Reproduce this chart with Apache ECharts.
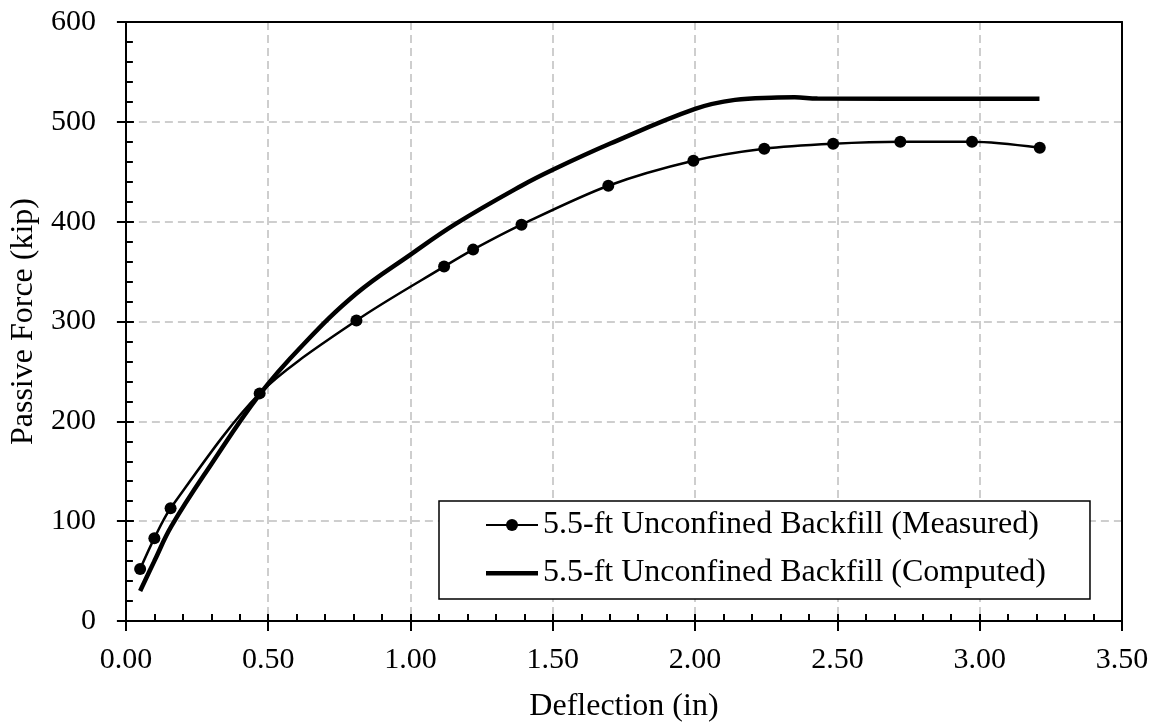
<!DOCTYPE html>
<html><head><meta charset="utf-8">
<script src="https://cdn.jsdelivr.net/npm/echarts@6/dist/echarts.min.js"></script>
<style>html,body{margin:0;padding:0;background:#fff}#c{width:1158px;height:728px}</style>
</head><body><div id="c"></div>
<script>
const measuredName = '5.5-ft Unconfined Backfill (Measured)';
const computedName = '5.5-ft Unconfined Backfill (Computed)';
const measuredX = [0.05, 0.10, 0.157, 0.47, 0.81, 1.118, 1.22, 1.39, 1.695, 1.994, 2.243, 2.485, 2.721, 2.973, 3.211];
const measuredY = [52, 83, 113, 228, 301, 355, 372, 397, 436, 461, 473, 478, 480, 480, 474];
const computedX = [0.05, 0.10, 0.16, 0.30, 0.47, 0.62, 0.81, 1.00, 1.16, 1.39, 1.50, 1.70, 2.00, 2.14, 2.29, 2.35, 2.43, 3.21];
const computedY = [30, 60, 95, 157, 227, 276, 328, 367, 398, 436, 452, 478, 513, 522, 524.3, 524.6, 523.3, 523];
const xMin = 0, xMax = 3.5, xStep = 0.5;
const yMin = 0, yMax = 600, yStep = 100;

const FONT = 'Liberation Serif, Times New Roman, serif';
const zip = (a, b) => a.map((v, i) => [v, b[i]]);
const gridLine = {show: true, lineStyle: {color: '#bfbfbf', type: [8, 5], width: 1.5}};
const blk = {color: '#000', width: 2};
const frameAxis = (extra) => Object.assign({
  type: 'value', axisLine: {show: true, onZero: false, lineStyle: blk},
  axisTick: {show: false}, axisLabel: {show: false}, splitLine: {show: false}
}, extra);

const chart = echarts.init(document.getElementById('c'), null, {renderer: 'canvas'});
chart.setOption({
  animation: false,
  backgroundColor: '#fff',
  grid: {left: 123, right: 36, top: 22, bottom: 103},
  legend: {
    orient: 'vertical', left: 439, top: 501,
    padding: [6, 44, 8, 46], itemGap: 12, itemWidth: 52, itemHeight: 15,
    backgroundColor: '#fff', borderColor: '#000', borderWidth: 1.5, borderRadius: 0,
    selectedMode: false,
    textStyle: {fontFamily: FONT, fontSize: 32, color: '#000', lineHeight: 36},
    data: [
      {name: measuredName},
      {name: computedName,
       icon: 'path://M0,0h0.05v0.05h-0.05z M0,5h52v4.5h-52z M51.95,13.95h0.05v0.05h-0.05z',
       itemStyle: {color: '#000'}}
    ]
  },
  xAxis: [
    {type: 'value', min: xMin, max: xMax, interval: xStep, position: 'bottom',
     axisLine: {show: true, onZero: false, lineStyle: blk},
     axisTick: {show: true, inside: false, length: 10, lineStyle: blk},
     axisLabel: {margin: 24, fontFamily: FONT, fontSize: 30, color: '#000', formatter: v => v.toFixed(2)},
     splitLine: gridLine,
     name: 'Deflection (in)', nameLocation: 'middle', nameGap: 70,
     nameTextStyle: {fontFamily: FONT, fontSize: 32, color: '#000'}},
    {type: 'value', min: xMin, max: xMax, interval: xStep, position: 'bottom', offset: 0,
     axisLine: {show: false}, axisLabel: {show: false}, splitLine: {show: false},
     axisTick: {show: true, inside: true, length: 7, lineStyle: blk},
     minorTick: {show: true, splitNumber: 5, length: 7, lineStyle: blk}},
    frameAxis({min: xMin, max: xMax, position: 'top'})
  ],
  yAxis: [
    {type: 'value', min: yMin, max: yMax, interval: yStep, position: 'left',
     axisLine: {show: true, onZero: false, lineStyle: blk},
     axisTick: {show: true, inside: false, length: 9, lineStyle: blk},
     axisLabel: {margin: 30, fontFamily: FONT, fontSize: 30, color: '#000'},
     splitLine: gridLine,
     name: 'Passive Force (kip)', nameLocation: 'middle', nameGap: 78,
     nameTextStyle: {fontFamily: FONT, fontSize: 32, color: '#000'}},
    {type: 'value', min: yMin, max: yMax, interval: yStep, position: 'left', offset: 0,
     axisLine: {show: false}, axisLabel: {show: false}, splitLine: {show: false},
     axisTick: {show: true, inside: true, length: 8, lineStyle: blk},
     minorTick: {show: true, splitNumber: 5, length: 7, lineStyle: blk}},
    frameAxis({min: yMin, max: yMax, position: 'right'})
  ],
  series: [
    {name: measuredName, type: 'line', xAxisIndex: 0, yAxisIndex: 0,
     data: zip(measuredX, measuredY), smooth: 0.3,
     symbol: 'circle', symbolSize: 12,
     lineStyle: {color: '#000', width: 2.5}, itemStyle: {color: '#000'}, z: 3},
    {name: computedName, type: 'line', xAxisIndex: 0, yAxisIndex: 0,
     data: zip(computedX, computedY), smooth: 0.4,
     symbol: 'none', showSymbol: false,
     lineStyle: {color: '#000', width: 4.5}, itemStyle: {color: '#000'}, z: 2}
  ]
});
</script></body></html>
